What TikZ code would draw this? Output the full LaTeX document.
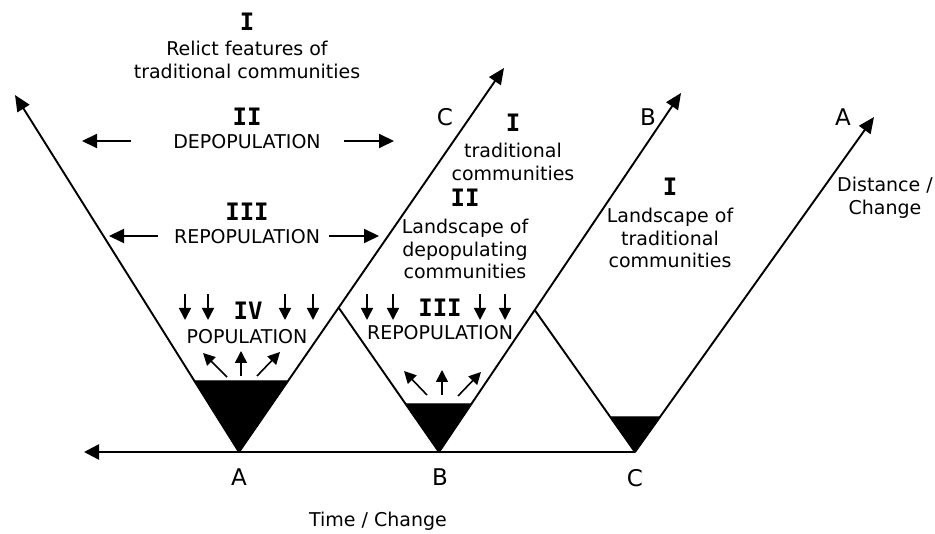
\documentclass[tikz,border=0pt]{standalone}
\usepackage{fontspec}
\setmainfont{DejaVu Sans}
\newfontfamily\numfont{DejaVu Sans Mono}
\usetikzlibrary{arrows.meta,calc}
\begin{document}
\begin{tikzpicture}[x=1pt,y=-1pt,
  txt/.style={font=\fontsize{19}{22.5}\selectfont, align=center, inner sep=0pt},
  lbl/.style={font=\fontsize{23}{26}\selectfont, inner sep=0pt},
  num/.style={font=\fontsize{24}{25}\selectfont\numfont\bfseries, inner sep=0pt},
  arm/.style={line width=1.9pt, -{Triangle[length=16pt,width=14pt]}},
  plain/.style={line width=1.9pt},
  axis/.style={line width=2.6pt, -{Triangle[length=15pt,width=15pt]}},
  harr/.style={line width=2pt, -{Triangle[length=15pt,width=14pt]}},
  sarr/.style={line width=1.6pt, -{Triangle[length=12pt,width=12pt]}},
  wedge/.style={fill=black, draw=black, line width=1pt, line join=miter}
]
\useasboundingbox (0,0) rectangle (935,534);

% apexes and tips
\coordinate (Ao) at (239,452);
\coordinate (Bo) at (439,452);
\coordinate (Co) at (635,452);
\coordinate (L)  at (84,452);
\coordinate (Atl) at (15,95);
\coordinate (Atr) at (504,68);
\coordinate (Btr) at (681,93);
\coordinate (Ctr) at (874,117);
\coordinate (Bs) at ($(Ao)!0.376!(Atr)$);
\coordinate (Cs) at ($(Bo)!0.3955!(Btr)$);

% black wedges
\coordinate (Aw1) at ($(Ao)!0.199!(Atl)$);
\coordinate (Aw2) at ($(Ao)!0.185!(Atr)$);
\coordinate (Bw1) at ($(Bo)!0.333!(Bs)$);
\coordinate (Bw2) at ($(Bo)!0.134!(Btr)$);
\coordinate (Cw1) at ($(Co)!0.2465!(Cs)$);
\coordinate (Cw2) at ($(Co)!0.1045!(Ctr)$);
\draw[wedge] (Ao) -- (Aw1) -- (Aw2) -- cycle;
\draw[wedge] (Bo) -- (Bw1) -- (Bw2) -- cycle;
\draw[wedge] (Co) -- (Cw1) -- (Cw2) -- cycle;

% axis and arms
\draw[axis] (Co) -- (L);
\draw[arm] (Ao) -- (Atl);
\draw[arm] (Ao) -- (Atr);
\draw[plain] (Bs) -- (Bo);
\draw[arm] (Bo) -- (Btr);
\draw[plain] (Cs) -- (Co);
\draw[arm] (Co) -- (Ctr);

% arm labels
\node[lbl] (lC) at (445,117) {C};
\node[lbl] (lB) at (648,117) {B};
\node[lbl] (lA) at (843,117) {A};
\node[txt] (dist) at (885,198) {Distance /\\Change};

% bottom labels
\node[lbl] (bA) at (239,477) {A};
\node[lbl] (bB) at (440,477) {B};
\node[lbl] (bC) at (635,478) {C};
\node[txt] (time) at (378,521) {Time / Change};

% left zone texts
\node[num] (n1) at (247,22) {I};
\node[txt] (relict) at (247,60) {Relict features of\\traditional communities};
\node[num] (n2) at (247,117) {II};
\node[txt] (depop) at (247,142) {DEPOPULATION};
\node[num] (n3) at (247,212) {III};
\node[txt] (repop) at (247,237) {REPOPULATION};

\coordinate (d1a) at (131,141); \coordinate (d1b) at (82,141);
\coordinate (d2a) at (344,141); \coordinate (d2b) at (394,141);
\coordinate (r1a) at (158,236); \coordinate (r1b) at (109,236);
\coordinate (r2a) at (329,236); \coordinate (r2b) at (379,236);
\draw[harr] (d1a) -- (d1b);
\draw[harr] (d2a) -- (d2b);
\draw[harr] (r1a) -- (r1b);
\draw[harr] (r2a) -- (r2b);

% middle zone texts
\node[num] (m1) at (513,123) {I};
\node[txt] (mtrad) at (513,162) {traditional\\communities};
\node[num] (m2) at (465,198) {II};
\node[txt] (mland) at (465,249) {Landscape of\\depopulating\\communities};

% right zone texts
\node[num] (r1) at (670,187) {I};
\node[txt] (rland) at (670,238) {Landscape of\\traditional\\communities};

% A basin
\node[num] (n4) at (248,311) {IV};
\node[txt] (pop) at (247,337) {POPULATION};
\foreach \x [count=\i] in {185,208,285,313}{
  \coordinate (ad\i a) at (\x,294);
  \coordinate (ad\i b) at (\x,320);
  \draw[sarr] (ad\i a) -- (ad\i b);
}
\coordinate (au1a) at (227,377); \coordinate (au1b) at (203,353);
\coordinate (au2a) at (241,376); \coordinate (au2b) at (241,351);
\coordinate (au3a) at (257,376); \coordinate (au3b) at (280,352);
\draw[sarr] (au1a) -- (au1b);
\draw[sarr] (au2a) -- (au2b);
\draw[sarr] (au3a) -- (au3b);

% B basin
\node[num] (b3) at (440,308) {III};
\node[txt] (brepop) at (440,333) {REPOPULATION};
\foreach \x [count=\i] in {367,393,480,505}{
  \coordinate (bd\i a) at (\x,294);
  \coordinate (bd\i b) at (\x,320);
  \draw[sarr] (bd\i a) -- (bd\i b);
}
\coordinate (bu1a) at (427,395); \coordinate (bu1b) at (404,371);
\coordinate (bu2a) at (442,395); \coordinate (bu2b) at (442,370);
\coordinate (bu3a) at (458,396); \coordinate (bu3b) at (481,372);
\draw[sarr] (bu1a) -- (bu1b);
\draw[sarr] (bu2a) -- (bu2b);
\draw[sarr] (bu3a) -- (bu3b);
\end{tikzpicture}
\end{document}
